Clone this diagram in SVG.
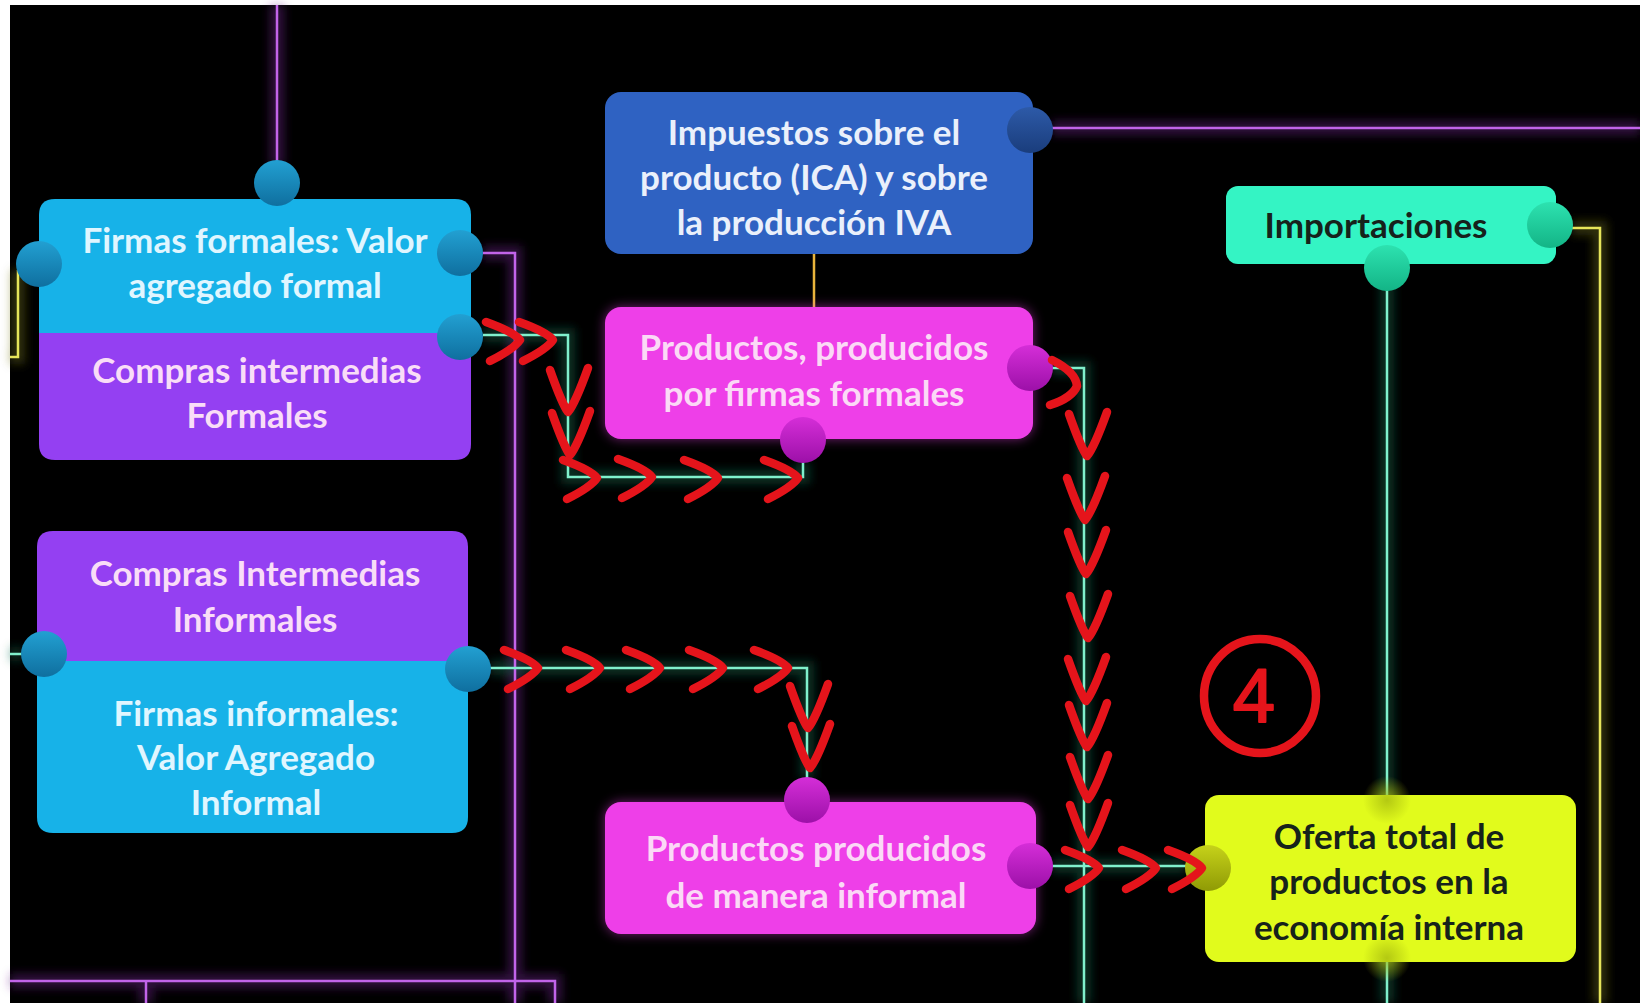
<svg xmlns="http://www.w3.org/2000/svg" width="1640" height="1003" viewBox="0 0 1640 1003">
<defs>
<style>
.t{font-family:Lato,"Open Sans","Liberation Sans",sans-serif;font-weight:700;font-size:35px;text-anchor:middle}
.tc{fill:#e0f6ff}
.tp{fill:#f9ddf7}
.tb{fill:#eaf0fb}
.tm{fill:#fbd9f6}
.td{fill:#16221b}
.ln{fill:none;stroke-width:2.5}
.halo{fill:none;stroke-width:14;opacity:.45}
.green{stroke:#80f0cc}
.purple{stroke:#c264ea}
.yellow{stroke:#e6e55a}
.orange{stroke:#e8b43c}
.red{fill:none;stroke:#e5141b;stroke-width:8.5;stroke-linecap:round;stroke-linejoin:round}
</style>
<filter id="blur" filterUnits="userSpaceOnUse" x="0" y="0" width="1640" height="1003"><feGaussianBlur stdDeviation="5"/></filter>
<filter id="bglow" filterUnits="userSpaceOnUse" x="0" y="0" width="1640" height="1003"><feGaussianBlur stdDeviation="6"/></filter>
<linearGradient id="gBlue" x1="0" y1="0" x2="0" y2="1"><stop offset="0" stop-color="#22a0d2"/><stop offset="1" stop-color="#0f6f9f"/></linearGradient>
<linearGradient id="gNavy" x1="0" y1="0" x2="0" y2="1"><stop offset="0" stop-color="#2d5aa8"/><stop offset="1" stop-color="#1a3d7c"/></linearGradient>
<linearGradient id="gMag" x1="0" y1="0" x2="0" y2="1"><stop offset="0" stop-color="#d52ed8"/><stop offset="1" stop-color="#9c10a8"/></linearGradient>
<linearGradient id="gAqua" x1="0" y1="0" x2="0" y2="1"><stop offset="0" stop-color="#2de2b0"/><stop offset="1" stop-color="#13b486"/></linearGradient>
<linearGradient id="gOlive" x1="0" y1="0" x2="0" y2="1"><stop offset="0" stop-color="#c6d21a"/><stop offset="1" stop-color="#8f9a05"/></linearGradient>
<radialGradient id="gFaint"><stop offset="0" stop-color="#a8bc10" stop-opacity=".8"/><stop offset="1" stop-color="#a8bc10" stop-opacity="0"/></radialGradient>
<path id="cr" d="M-34,-18 Q-6,-8 0,0 Q-6,9 -30,21"/>
<path id="cv" d="M-18,-42 Q-6,-8 0,0 Q7,-8 20,-44"/>
</defs>
<rect x="0" y="0" width="1640" height="1003" fill="#000"/>
<rect x="0" y="0" width="10" height="1003" fill="#fff"/>
<rect x="0" y="0" width="1640" height="5" fill="#fff"/>

<g id="connectors">
<g filter="url(#blur)">
<path class="halo" stroke="#6a1f8a" d="M277,5 V165 M483,253 H515 V1003 M1052,128 H1640 M10,981 H555 V1003 M146,981 V1003"/>
<path class="halo" stroke="#0f6a4e" d="M483,335 H568 V477 H803 V462 M1052,368 H1084 V1003 M490,668 H807 V778 M1052,866 H1186 M1387,268 V1003 M10,654 H22"/>
<path class="halo" stroke="#6a6a10" d="M1572,228 H1600 V1003 M18,270 V357 H10"/>
</g>
<path class="ln purple" d="M277,5 V165"/>
<path class="ln purple" d="M483,253 H515 V1003"/>
<path class="ln purple" d="M1052,128 H1640"/>
<path class="ln purple" d="M10,981 H555 V1003"/>
<path class="ln purple" d="M146,981 V1003"/>
<path class="ln green" d="M483,335 H568 V477 H803 V462"/>
<path class="ln green" d="M1052,368 H1084 V1003"/>
<path class="ln green" d="M490,668 H807 V778"/>
<path class="ln green" d="M1052,866 H1186"/>
<path class="ln green" d="M1387,268 V1003"/>
<path class="ln green" d="M10,654 H22"/>
<path class="ln yellow" d="M1572,228 H1600 V1003"/>
<path class="ln yellow" d="M18,270 V357 H10"/>
<path class="ln orange" d="M814,254 V307"/>
</g>

<g id="n-firmas-formales">
<path d="M55,199 H455 Q471,199 471,215 V333 H39 V215 Q39,199 55,199 Z" fill="#17b2e8"/>
<text class="t tc" x="255" y="253">Firmas formales: Valor</text>
<text class="t tc" x="255" y="298">agregado formal</text>
</g>
<g id="n-compras-formales">
<path d="M39,333 H471 V444 Q471,460 455,460 H55 Q39,460 39,444 Z" fill="#9440f2"/>
<text class="t tp" x="257" y="383">Compras intermedias</text>
<text class="t tp" x="257" y="428">Formales</text>
</g>
<g id="n-firmas-formales-ports">
<circle cx="277" cy="183" r="23" fill="url(#gBlue)"/>
<circle cx="39" cy="264" r="23" fill="url(#gBlue)"/>
<circle cx="460" cy="253" r="23" fill="url(#gBlue)"/>
<circle cx="460" cy="337" r="23" fill="url(#gBlue)"/>
</g>

<g id="n-compras-informales">
<path d="M53,531 H452 Q468,531 468,547 V661 H37 V547 Q37,531 53,531 Z" fill="#9440f2"/>
<text class="t tp" x="255" y="586">Compras Intermedias</text>
<text class="t tp" x="255" y="632">Informales</text>
</g>
<g id="n-firmas-informales">
<path d="M37,661 H468 V817 Q468,833 452,833 H53 Q37,833 37,817 Z" fill="#17b2e8"/>
<text class="t tc" x="256" y="726">Firmas informales:</text>
<text class="t tc" x="256" y="770">Valor Agregado</text>
<text class="t tc" x="256" y="815">Informal</text>
<circle cx="44" cy="654" r="23" fill="url(#gBlue)"/>
<circle cx="468" cy="669" r="23" fill="url(#gBlue)"/>
</g>

<g id="n-impuestos">
<rect x="605" y="92" width="428" height="162" rx="16" fill="#2f62c2"/>
<text class="t tb" x="814" y="145">Impuestos sobre el</text>
<text class="t tb" x="814" y="190">producto (ICA) y sobre</text>
<text class="t tb" x="814" y="235">la producción IVA</text>
<circle cx="1030" cy="130" r="23" fill="url(#gNavy)"/>
</g>

<g id="n-productos-formales">
<rect x="605" y="307" width="428" height="132" rx="16" fill="#ee3fe8" filter="url(#bglow)" opacity=".5"/>
<rect x="605" y="307" width="428" height="132" rx="16" fill="#ee3fe8"/>
<text class="t tm" x="814" y="360">Productos, producidos</text>
<text class="t tm" x="814" y="406">por firmas formales</text>
<circle cx="1030" cy="368" r="23" fill="url(#gMag)"/>
<circle cx="803" cy="440" r="23" fill="url(#gMag)"/>
</g>

<g id="n-importaciones">
<rect x="1226" y="186" width="330" height="78" rx="12" fill="#34f4c4"/>
<text class="t td" x="1376" y="238">Importaciones</text>
<circle cx="1550" cy="225" r="23" fill="url(#gAqua)"/>
<circle cx="1387" cy="268" r="23" fill="url(#gAqua)"/>
</g>

<g id="n-productos-informales">
<rect x="605" y="802" width="431" height="132" rx="16" fill="#ee3fe8" filter="url(#bglow)" opacity=".5"/>
<rect x="605" y="802" width="431" height="132" rx="16" fill="#ee3fe8"/>
<text class="t tm" x="816" y="861">Productos producidos</text>
<text class="t tm" x="816" y="908">de manera informal</text>
<circle cx="807" cy="800" r="23" fill="url(#gMag)"/>
<circle cx="1030" cy="866" r="23" fill="url(#gMag)"/>
</g>

<g id="n-oferta">
<rect x="1205" y="795" width="371" height="167" rx="14" fill="#e1fb1c"/>
<circle cx="1387" cy="800" r="24" fill="url(#gFaint)"/>
<circle cx="1387" cy="958" r="24" fill="url(#gFaint)"/>
<text class="t td" x="1389" y="849">Oferta total de</text>
<text class="t td" x="1389" y="894">productos en la</text>
<text class="t td" x="1389" y="940">economía interna</text>
<circle cx="1208" cy="868" r="23" fill="url(#gOlive)"/>
</g>

<g id="annotations" class="red">
<use href="#cr" x="520" y="340"/>
<use href="#cr" x="553" y="340"/>
<use href="#cv" x="568" y="412"/>
<use href="#cv" x="570" y="455"/>
<use href="#cr" x="597" y="478"/>
<use href="#cr" x="652" y="477"/>
<use href="#cr" x="718" y="478"/>
<use href="#cr" x="798" y="478"/>
<path d="M1052,360 Q1076,372 1077,386 Q1072,398 1050,405"/>
<use href="#cv" x="1087" y="456"/>
<use href="#cv" x="1085" y="520"/>
<use href="#cv" x="1086" y="574"/>
<use href="#cv" x="1088" y="638"/>
<use href="#cv" x="1086" y="701"/>
<use href="#cv" x="1087" y="747"/>
<use href="#cv" x="1088" y="799"/>
<use href="#cv" x="1088" y="847"/>
<use href="#cr" x="1099" y="868"/>
<use href="#cr" x="1156" y="868"/>
<use href="#cr" x="1202" y="868"/>
<use href="#cr" x="538" y="668"/>
<use href="#cr" x="600" y="668"/>
<use href="#cr" x="660" y="668"/>
<use href="#cr" x="723" y="668"/>
<use href="#cr" x="788" y="668"/>
<use href="#cv" x="808" y="728"/>
<use href="#cv" x="810" y="768"/>
<ellipse cx="1260" cy="696" rx="56" ry="57"/>
<text x="1254" y="722" font-family="Liberation Sans, sans-serif" font-size="76" fill="#e5141b" stroke="#e5141b" stroke-width="2" text-anchor="middle">4</text>
</g>
</svg>
